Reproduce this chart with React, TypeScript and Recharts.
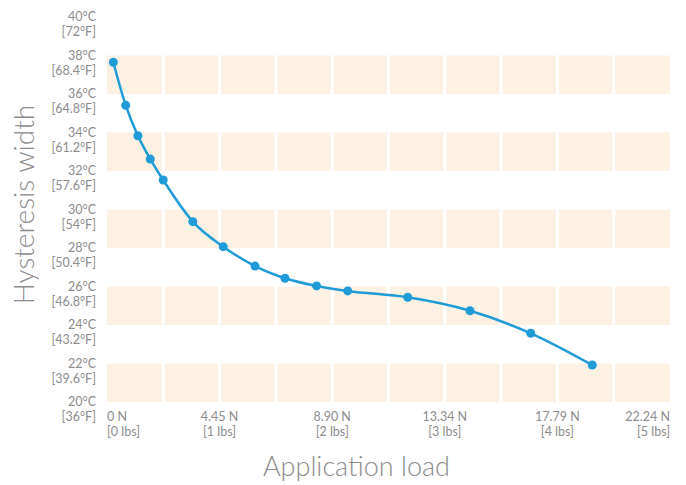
import React from 'react';
import {
  LineChart,
  Line,
  XAxis,
  YAxis,
  ReferenceArea,
  ReferenceLine
} from 'recharts';

const LBS_TO_N = 4.448;

// measured points: load in newtons, hysteresis width in °C
const loadN = [0.25, 0.74, 1.22, 1.71, 2.22, 3.39, 4.59, 5.85, 7.03, 8.28, 9.51, 11.88, 14.34, 16.74, 19.17];
const widthC = [37.65, 35.41, 33.83, 32.62, 31.53, 29.37, 28.07, 27.06, 26.43, 26.03, 25.77, 25.44, 24.74, 23.57, 21.92];

const xTickLbs = [0, 1, 2, 3, 4, 5];
const xTickN = ['0 N', '4.45 N', '8.90 N', '13.34 N', '17.79 N', '22.24 N'];
const xTickLbsText = ['[0 lbs]', '[1 lbs]', '[2 lbs]', '[3 lbs]', '[4 lbs]', '[5 lbs]'];

const yTicks = [20, 22, 24, 26, 28, 30, 32, 34, 36, 38, 40];
const yTickF = ['36', '39.6', '43.2', '46.8', '50.4', '54', '57.6', '61.2', '64.8', '68.4', '72'];

// shaded bands (lower bound, °C) and column separators (lbs)
const bandStarts = [20, 24, 28, 32, 36];
const separatorLbs = [0.5, 1, 1.5, 2, 2.5, 3, 3.5, 4, 4.5];

const X_MAX = 5 * LBS_TO_N;
const data = loadN.map((n, i) => ({ load: n, width: widthC[i] }));

const FONT = 'Lato, "Open Sans", sans-serif';
const TEXT = '#8c8c8c';
const BLUE = '#1f9bd8';
const BAND = '#fdf1e4';
const TICK_SIZE = 12.5;

const XTick = (props: any) => {
  const { x, y, payload, index } = props;
  const i = xTickLbs.findIndex(v => Math.abs(v * LBS_TO_N - payload.value) < 0.01);
  const anchor = index === 0 ? 'start' : i === xTickLbs.length - 1 ? 'end' : 'middle';
  return (
    <g>
      <text x={x} y={y + 11} textAnchor={anchor} fill={TEXT} fontSize={TICK_SIZE} fontFamily={FONT}>{xTickN[i]}</text>
      <text x={x} y={y + 26} textAnchor={anchor} fill={TEXT} fontSize={TICK_SIZE} fontFamily={FONT}>{xTickLbsText[i]}</text>
    </g>
  );
};

const YTick = (props: any) => {
  const { x, y, payload } = props;
  const i = yTicks.indexOf(payload.value);
  return (
    <g>
      <text x={x - 3} y={y + 4} textAnchor="end" fill={TEXT} fontSize={TICK_SIZE} fontFamily={FONT}>{payload.value}°C</text>
      <text x={x - 3} y={y + 19} textAnchor="end" fill={TEXT} fontSize={TICK_SIZE} fontFamily={FONT}>[{yTickF[i]}°F]</text>
    </g>
  );
};

const YTitle = ({ viewBox }: any) => {
  const cx = viewBox.x + 34;
  const cy = viewBox.y + viewBox.height / 2 - 5;
  return (
    <text x={cx} y={cy} transform={`rotate(-90, ${cx}, ${cy})`} textAnchor="middle" fill={TEXT} fontSize={28} fontWeight={300} fontFamily={FONT}>
      Hysteresis width
    </text>
  );
};

const XTitle = ({ viewBox }: any) => (
  <text x={viewBox.x + viewBox.width / 2 - 32} y={viewBox.y + 74} textAnchor="middle" fill={TEXT} fontSize={27} fontWeight={300} fontFamily={FONT}>
    Application load
  </text>
);

export default function App() {
  return (
    <div style={{ position: 'absolute', left: 0, top: 0, width: 686, height: 485, background: '#fff' }}>
      <LineChart width={686} height={485} data={data} margin={{ top: 17, right: 16, bottom: 0, left: 0 }}>
        {bandStarts.map(b => (
          <ReferenceArea key={b} y1={b} y2={b + 2} fill={BAND} fillOpacity={1} stroke="none" />
        ))}
        {separatorLbs.map(s => (
          <ReferenceLine key={s} x={s * LBS_TO_N} stroke="#ffffff" strokeWidth={3} />
        ))}
        <XAxis
          type="number"
          dataKey="load"
          domain={[0, X_MAX]}
          ticks={xTickLbs.map(v => v * LBS_TO_N)}
          interval={0}
          axisLine={false}
          tickLine={false}
          tick={<XTick />}
          height={83}
          label={<XTitle />}
        />
        <YAxis
          type="number"
          domain={[20, 40]}
          ticks={yTicks}
          interval={0}
          axisLine={false}
          tickLine={false}
          tick={<YTick />}
          width={107}
          label={<YTitle />}
        />
        <Line
          type="monotone"
          dataKey="width"
          stroke={BLUE}
          strokeWidth={2.5}
          dot={{ r: 4.5, fill: BLUE, stroke: BLUE, strokeWidth: 0 }}
          activeDot={false}
          isAnimationActive={false}
        />
      </LineChart>
    </div>
  );
}
